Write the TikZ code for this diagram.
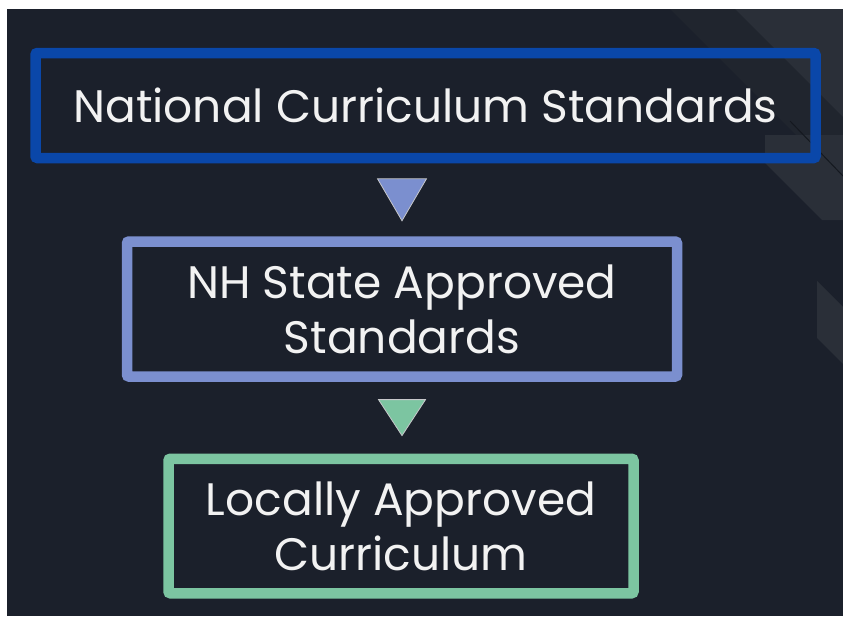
\documentclass[tikz,border=0pt]{standalone}
\usepackage{fontspec}
\setmainfont{Poppins}
\usetikzlibrary{calc,positioning}

\definecolor{slate}{HTML}{1B202B}
\definecolor{slatelight}{HTML}{2A2F38}
\definecolor{slatemid}{HTML}{20252E}
\definecolor{slateline}{HTML}{14181F}
\definecolor{natblue}{HTML}{0A47A9}
\definecolor{peri}{HTML}{7B8FCF}
\definecolor{mint}{HTML}{7CC5A1}

\begin{document}
\begin{tikzpicture}[x=1pt, y=-1pt,
    box/.style={rectangle, rounded corners=2pt, line width=10.5pt, inner sep=0pt,
                text=white!95!black, align=center,
                font=\fontsize{45.5}{55}\selectfont},
    tri/.style={draw=white!75!slate, line width=0.8pt, line join=miter}]
  % page and slide backdrop
  \fill[white] (0,0) rectangle (843,616);
  \useasboundingbox (0,0) rectangle (843,616);
  \fill[slate] (7,9) rectangle (843,616);
  % faint diagonal bands, top right
  \fill[slatemid] (670,9) -- (843,9) -- (843,182) -- cycle;
  \fill[slatelight] (735,9) -- (843,9) -- (843,117) -- cycle;
  \fill[slatelight] (765,135) -- (843,135) -- (843,220) -- (822,220) -- (765,163) -- cycle;
  \draw[slateline, line width=1pt] (790,121) -- (843,176);
  \fill[slatelight] (817,281) -- (843,307) -- (843,364) -- (817,338) -- cycle;

  % the three levels
  \node[box, draw=natblue, minimum width=780pt, minimum height=105pt] (nat) at (425.5,105.5)
    {National Curriculum Standards};
  \node[box, draw=peri, minimum width=550pt, minimum height=135pt] (state) at (402,309)
    {NH State Approved\\Standards};
  \node[box, draw=mint, minimum width=465pt, minimum height=134.5pt] (local) at (401,526)
    {Locally Approved\\Curriculum};

  % pointers between levels
  \coordinate (m1) at ($(state.north)!.5!(state.north |- nat.south)$);
  \coordinate (m2) at ($(state.south)!.5!(state.south |- local.north)$);
  \filldraw[tri, fill=peri] ($(m1)+(-24.5,-21)$) -- ($(m1)+(24.5,-21)$) -- ($(m1)+(0,21)$) -- cycle;
  \filldraw[tri, fill=mint] ($(m2)+(-23.5,-18)$) -- ($(m2)+(23.5,-18)$) -- ($(m2)+(0,18)$) -- cycle;
\end{tikzpicture}
\end{document}
